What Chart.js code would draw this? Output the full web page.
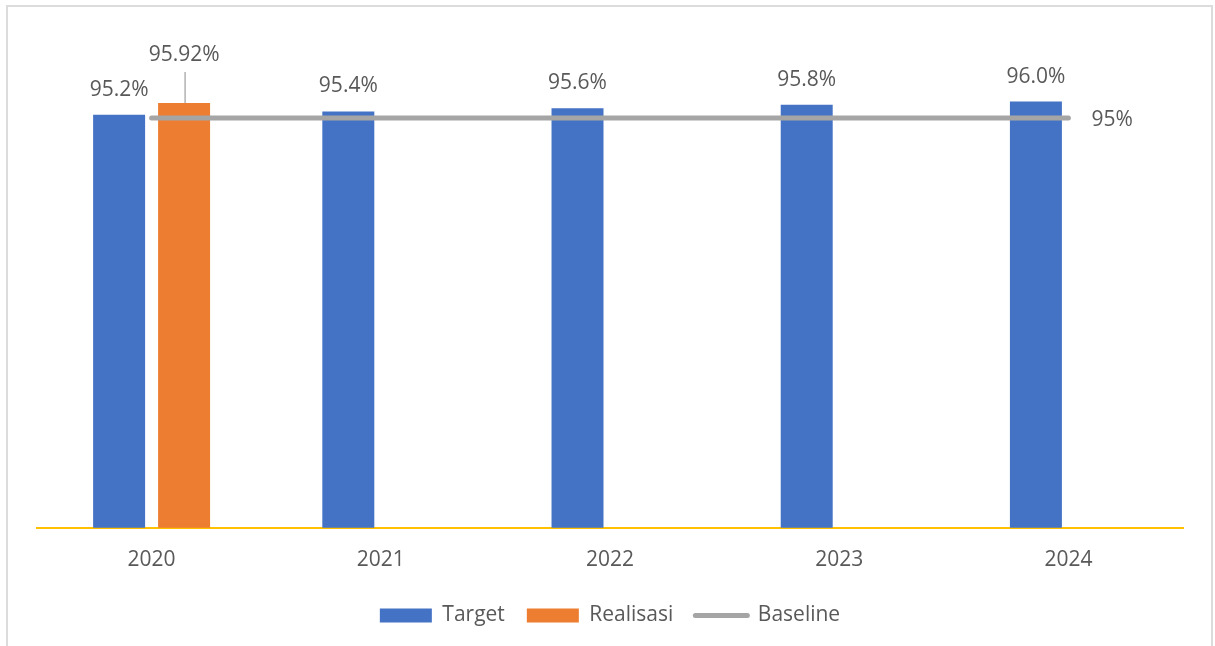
<!DOCTYPE html>
<html>
<head>
<meta charset="utf-8">
<script src="https://cdn.jsdelivr.net/npm/chart.js@4.4.1/dist/chart.umd.min.js"></script>
<style>
  html, body { margin: 0; padding: 0; background: #fff; overflow: hidden; }
  #frame {
    position: absolute; left: 6px; top: 5px; width: 1207px; height: 700px;
    box-sizing: border-box; border: 2px solid #dcdcdc;
  }
  #canvas { position: absolute; left: 0; top: 0; }
</style>
</head>
<body>
<div id="frame"></div>
<canvas id="canvas" width="1215" height="646"></canvas>
<script>
// tahun dan nilai (persen)
const years = ['2020', '2021', '2022', '2023', '2024']
const targetValues = [95.2, 95.4, 95.6, 95.8, 96.0]
const realisasiValues = [95.92, null, null, null, null]
const baselineValues = [95, 95, 95, 95, 95]
const yMin = 70
const yMax = 100

const textColor = '#595959'
const fontFamily = "'Open Sans', 'Noto Sans', sans-serif"
const fontSize = 21

// tulisan nilai di atas batang + label baseline di ujung garis
const valueLabels = {
  id: 'valueLabels',
  afterDatasetsDraw(chart) {
    const ctx = chart.ctx
    ctx.save()
    ctx.font = fontSize + 'px ' + fontFamily
    ctx.fillStyle = textColor
    ctx.textBaseline = 'middle'
    chart.data.datasets.forEach((ds, i) => {
      const meta = chart.getDatasetMeta(i)
      meta.data.forEach((el, j) => {
        const v = ds.data[j]
        if (v === null || v === undefined) return
        const txt = v.toFixed(ds.decimals) + '%'
        if (ds.type === 'line') {
          if (j !== ds.data.length - 1) return
          ctx.textAlign = 'left'
          ctx.fillText(txt, el.x + 23, el.y + 2)
        } else if (ds.leader) {
          // label agak tinggi, pakai garis penunjuk
          ctx.strokeStyle = '#a6a6a6'
          ctx.lineWidth = 1.3
          ctx.beginPath()
          ctx.moveTo(el.x + 1, el.y - 31)
          ctx.lineTo(el.x + 1, el.y)
          ctx.stroke()
          ctx.textAlign = 'center'
          ctx.fillText(txt, el.x, el.y - 48)
        } else {
          ctx.textAlign = 'center'
          ctx.fillText(txt, el.x, el.y - 25)
        }
      })
    })
    ctx.restore()
  }
}

// legend sedikit dinaikkan supaya lebih dekat ke label tahun
const legendNudge = {
  id: 'legendNudge',
  afterLayout(chart) {
    const lg = chart.legend
    if (!lg) return
    lg.top -= 10
    lg.bottom -= 10
    if (lg.legendHitBoxes) lg.legendHitBoxes.forEach(b => { b.top -= 10 })
  }
}

const data = {
  labels: years,
  datasets: [
    {
      label: 'Target',
      type: 'bar',
      data: targetValues,
      backgroundColor: '#4472C4',
      decimals: 1,
      order: 1,
    },
    {
      label: 'Realisasi',
      type: 'bar',
      data: realisasiValues,
      backgroundColor: '#ED7D31',
      decimals: 2,
      leader: true,
      order: 1,
    },
    {
      label: 'Baseline',
      type: 'line',
      data: baselineValues,
      borderColor: '#A5A5A5',
      backgroundColor: '#A5A5A5',
      borderWidth: 5,
      borderCapStyle: 'round',
      pointRadius: 0,
      decimals: 0,
      order: 0,
    },
  ],
}

const config = {
  type: 'bar',
  data: data,
  options: {
    responsive: false,
    animation: false,
    categoryPercentage: 0.567,
    barPercentage: 0.8,
    layout: { padding: { left: 37, right: 32, top: 36, bottom: 0 } },
    scales: {
      x: {
        grid: { display: false, drawTicks: false },
        border: { display: true, color: '#FFC000', width: 2 },
        ticks: { color: textColor, font: { family: fontFamily, size: fontSize }, padding: 20 },
      },
      y: { display: false, min: yMin, max: yMax },
    },
    plugins: {
      tooltip: { enabled: false },
      legend: {
        position: 'bottom',
        labels: {
          usePointStyle: true,
          pointStyleWidth: 52,
          boxHeight: 14,
          padding: 22,
          color: textColor,
          font: { family: fontFamily, size: fontSize },
          generateLabels(chart) {
            return chart.data.datasets.map((ds, i) => ({
              text: ds.label,
              datasetIndex: i,
              fillStyle: ds.type === 'line' ? ds.borderColor : ds.backgroundColor,
              strokeStyle: ds.type === 'line' ? ds.borderColor : ds.backgroundColor,
              lineWidth: ds.type === 'line' ? 5 : 0,
              lineCap: 'round',
              pointStyle: ds.type === 'line' ? 'line' : 'rect',
              fontColor: textColor,
              hidden: false,
            }))
          },
        },
      },
    },
  },
  plugins: [valueLabels, legendNudge],
}

const canvas = document.getElementById('canvas')
const chart = new Chart(canvas, config)
</script>
</body>
</html>
